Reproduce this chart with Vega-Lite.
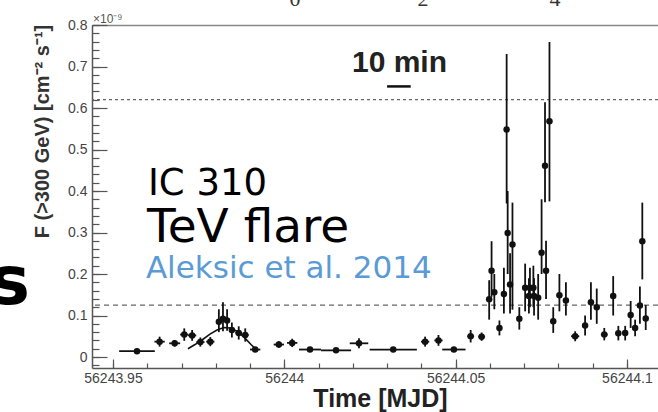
{
  "$schema": "https://vega.github.io/schema/vega-lite/v6.json",
  "width": 566,
  "height": 343,
  "autosize": {"type": "none"},
  "padding": {"left": 92, "top": 25, "right": 0, "bottom": 44},
  "background": "white",
  "config": {"view": {"stroke": null}, "axis": {"grid": false}},
  "datasets": {
    "pts": [
      {"t":56243.9570,"f":0.014,"lo":0.010,"hi":0.018,"t0":56243.9518,"t1":56243.9622},
      {"t":56243.9636,"f":0.037,"lo":0.025,"hi":0.049,"t0":56243.9621,"t1":56243.9651},
      {"t":56243.9680,"f":0.033,"lo":0.025,"hi":0.041,"t0":56243.9664,"t1":56243.9696},
      {"t":56243.9708,"f":0.054,"lo":0.039,"hi":0.069,"t0":56243.9696,"t1":56243.9720},
      {"t":56243.9731,"f":0.052,"lo":0.039,"hi":0.065,"t0":56243.9719,"t1":56243.9743},
      {"t":56243.9755,"f":0.036,"lo":0.025,"hi":0.047,"t0":56243.9743,"t1":56243.9767},
      {"t":56243.9784,"f":0.037,"lo":0.026,"hi":0.048,"t0":56243.9772,"t1":56243.9796},
      {"t":56243.9809,"f":0.085,"lo":0.060,"hi":0.115,"t0":56243.9801,"t1":56243.9817},
      {"t":56243.9821,"f":0.092,"lo":0.062,"hi":0.132,"t0":56243.9813,"t1":56243.9829},
      {"t":56243.9833,"f":0.088,"lo":0.063,"hi":0.115,"t0":56243.9825,"t1":56243.9841},
      {"t":56243.9847,"f":0.065,"lo":0.047,"hi":0.083,"t0":56243.9839,"t1":56243.9855},
      {"t":56243.9867,"f":0.058,"lo":0.042,"hi":0.074,"t0":56243.9857,"t1":56243.9877},
      {"t":56243.9886,"f":0.053,"lo":0.037,"hi":0.069,"t0":56243.9876,"t1":56243.9896},
      {"t":56243.9915,"f":0.018,"lo":0.012,"hi":0.024,"t0":56243.9900,"t1":56243.9930},
      {"t":56243.9984,"f":0.030,"lo":0.022,"hi":0.038,"t0":56243.9969,"t1":56243.9999},
      {"t":56244.0023,"f":0.034,"lo":0.024,"hi":0.044,"t0":56244.0008,"t1":56244.0038},
      {"t":56244.0075,"f":0.018,"lo":0.014,"hi":0.022,"t0":56244.0043,"t1":56244.0107},
      {"t":56244.0151,"f":0.016,"lo":0.012,"hi":0.020,"t0":56244.0107,"t1":56244.0195},
      {"t":56244.0218,"f":0.033,"lo":0.021,"hi":0.045,"t0":56244.0191,"t1":56244.0245},
      {"t":56244.0318,"f":0.018,"lo":0.014,"hi":0.022,"t0":56244.0249,"t1":56244.0387},
      {"t":56244.0411,"f":0.037,"lo":0.025,"hi":0.049,"t0":56244.0399,"t1":56244.0423},
      {"t":56244.0450,"f":0.040,"lo":0.027,"hi":0.053,"t0":56244.0438,"t1":56244.0462},
      {"t":56244.0495,"f":0.018,"lo":0.012,"hi":0.024,"t0":56244.0461,"t1":56244.0529},
      {"t":56244.0544,"f":0.050,"lo":0.035,"hi":0.065,"t0":56244.0534,"t1":56244.0554},
      {"t":56244.0576,"f":0.049,"lo":0.039,"hi":0.059,"t0":56244.0566,"t1":56244.0586},
      {"t":56244.0598,"f":0.139,"lo":0.090,"hi":0.185,"t0":56244.0593,"t1":56244.0603},
      {"t":56244.0605,"f":0.208,"lo":0.145,"hi":0.279,"t0":56244.0600,"t1":56244.0610},
      {"t":56244.0613,"f":0.156,"lo":0.115,"hi":0.200,"t0":56244.0608,"t1":56244.0618},
      {"t":56244.0628,"f":0.070,"lo":0.052,"hi":0.088,"t0":56244.0623,"t1":56244.0633},
      {"t":56244.0641,"f":0.152,"lo":0.105,"hi":0.215,"t0":56244.0636,"t1":56244.0646},
      {"t":56244.0649,"f":0.548,"lo":0.370,"hi":0.730,"t0":56244.0644,"t1":56244.0654},
      {"t":56244.0652,"f":0.299,"lo":0.200,"hi":0.400,"t0":56244.0647,"t1":56244.0657},
      {"t":56244.0659,"f":0.175,"lo":0.105,"hi":0.250,"t0":56244.0654,"t1":56244.0664},
      {"t":56244.0666,"f":0.271,"lo":0.114,"hi":0.372,"t0":56244.0661,"t1":56244.0671},
      {"t":56244.0686,"f":0.092,"lo":0.066,"hi":0.120,"t0":56244.0681,"t1":56244.0691},
      {"t":56244.0703,"f":0.167,"lo":0.110,"hi":0.225,"t0":56244.0698,"t1":56244.0708},
      {"t":56244.0714,"f":0.147,"lo":0.105,"hi":0.190,"t0":56244.0709,"t1":56244.0719},
      {"t":56244.0717,"f":0.167,"lo":0.120,"hi":0.215,"t0":56244.0712,"t1":56244.0722},
      {"t":56244.0727,"f":0.167,"lo":0.120,"hi":0.220,"t0":56244.0722,"t1":56244.0732},
      {"t":56244.0729,"f":0.147,"lo":0.100,"hi":0.190,"t0":56244.0724,"t1":56244.0734},
      {"t":56244.0741,"f":0.143,"lo":0.090,"hi":0.200,"t0":56244.0736,"t1":56244.0746},
      {"t":56244.0751,"f":0.251,"lo":0.200,"hi":0.380,"t0":56244.0746,"t1":56244.0756},
      {"t":56244.0761,"f":0.461,"lo":0.373,"hi":0.614,"t0":56244.0756,"t1":56244.0766},
      {"t":56244.0764,"f":0.208,"lo":0.140,"hi":0.280,"t0":56244.0759,"t1":56244.0769},
      {"t":56244.0774,"f":0.568,"lo":0.375,"hi":0.759,"t0":56244.0769,"t1":56244.0779},
      {"t":56244.0785,"f":0.086,"lo":0.058,"hi":0.120,"t0":56244.0780,"t1":56244.0790},
      {"t":56244.0803,"f":0.149,"lo":0.110,"hi":0.200,"t0":56244.0798,"t1":56244.0808},
      {"t":56244.0822,"f":0.136,"lo":0.100,"hi":0.180,"t0":56244.0817,"t1":56244.0827},
      {"t":56244.0849,"f":0.050,"lo":0.038,"hi":0.062,"t0":56244.0837,"t1":56244.0861},
      {"t":56244.0878,"f":0.076,"lo":0.052,"hi":0.100,"t0":56244.0873,"t1":56244.0883},
      {"t":56244.0895,"f":0.132,"lo":0.090,"hi":0.180,"t0":56244.0890,"t1":56244.0900},
      {"t":56244.0912,"f":0.120,"lo":0.080,"hi":0.165,"t0":56244.0907,"t1":56244.0917},
      {"t":56244.0934,"f":0.054,"lo":0.040,"hi":0.070,"t0":56244.0924,"t1":56244.0944},
      {"t":56244.0960,"f":0.147,"lo":0.100,"hi":0.195,"t0":56244.0955,"t1":56244.0965},
      {"t":56244.0975,"f":0.057,"lo":0.040,"hi":0.075,"t0":56244.0967,"t1":56244.0983},
      {"t":56244.0995,"f":0.058,"lo":0.040,"hi":0.075,"t0":56244.0987,"t1":56244.1003},
      {"t":56244.1011,"f":0.101,"lo":0.070,"hi":0.135,"t0":56244.1006,"t1":56244.1016},
      {"t":56244.1024,"f":0.070,"lo":0.050,"hi":0.090,"t0":56244.1019,"t1":56244.1029},
      {"t":56244.1038,"f":0.124,"lo":0.080,"hi":0.170,"t0":56244.1033,"t1":56244.1043},
      {"t":56244.1045,"f":0.279,"lo":0.187,"hi":0.372,"t0":56244.1040,"t1":56244.1050},
      {"t":56244.1055,"f":0.093,"lo":0.065,"hi":0.125,"t0":56244.1050,"t1":56244.1060}
    ],
    "fit": [
      {"t":56243.97189,"f":0.020},
      {"t":56243.97393,"f":0.030},
      {"t":56243.97598,"f":0.041},
      {"t":56243.97831,"f":0.055},
      {"t":56243.98036,"f":0.065},
      {"t":56243.98240,"f":0.071},
      {"t":56243.98415,"f":0.070},
      {"t":56243.98619,"f":0.062},
      {"t":56243.98824,"f":0.048},
      {"t":56243.99028,"f":0.030},
      {"t":56243.99232,"f":0.014}
    ],
    "thr": [{"f":0.62},{"f":0.125}],
    "bar": [{"t0":56244.0300,"t1":56244.0369,"f":0.652}],
    "notes": [
      {"k":"ic","label":"IC 310","t":56243.9602,"f":0.391},
      {"k":"tev","label":"TeV flare","t":56243.9599,"f":0.278},
      {"k":"ref","label":"Aleksic et al. 2014","t":56243.9596,"f":0.191},
      {"k":"min","label":"10 min","t":56244.01976,"f":0.687},
      {"k":"s","label":"s","t":56243.92577,"f":0.128},
      {"k":"exp","label":"×10⁻⁹","t":56243.94416,"f":0.805},
      {"k":"top","label":"0","t":56244.00312,"f":0.846},
      {"k":"top","label":"2","t":56244.04049,"f":0.846},
      {"k":"top","label":"4","t":56244.07901,"f":0.846}
    ]
  },
  "resolve": {"axis": {"x": "independent", "y": "independent"}},
  "layer": [
    {
      "data": {"name": "thr"},
      "transform": [{"filter": "datum.f > 0.5"}],
      "mark": {"type": "rule", "stroke": "#666", "strokeDash": [3, 3], "strokeWidth": 1.2},
      "encoding": {"y": {"field": "f", "type": "quantitative", "scale": {"domain": [-0.0265, 0.8], "nice": false, "zero": false}, "axis": null}}
    },
    {
      "data": {"name": "thr"},
      "transform": [{"filter": "datum.f < 0.5"}],
      "mark": {"type": "rule", "stroke": "#666", "strokeDash": [5, 4], "strokeWidth": 1.2},
      "encoding": {"y": {"field": "f", "type": "quantitative", "axis": null}}
    },
    {
      "data": {"name": "fit"},
      "mark": {"type": "line", "color": "#111", "strokeWidth": 1.6},
      "encoding": {
        "x": {"field": "t", "type": "quantitative", "axis": {"orient": "top", "ticks": false, "labels": false, "domain": true, "domainColor": "#888", "domainWidth": 1.5, "title": null}},
        "y": {"field": "f", "type": "quantitative", "axis": null}
      }
    },
    {
      "data": {"name": "pts"},
      "mark": {"type": "rule", "color": "#111", "strokeWidth": 1.8},
      "encoding": {
        "x": {"field": "t0", "type": "quantitative", "axis": {"orient": "bottom", "values": [56243.95,56243.96,56243.97,56243.98,56243.99,56244,56244.01,56244.02,56244.03,56244.04,56244.05,56244.06,56244.07,56244.08,56244.09,56244.1], "labels": false, "domain": false, "tickSize": -5, "tickColor": "#555", "tickWidth": 1.2, "title": null}},
        "x2": {"field": "t1"},
        "y": {"field": "f", "type": "quantitative", "axis": {"orient": "left", "values": [-0.02,0,0.02,0.04,0.06,0.08,0.1,0.12,0.14,0.16,0.18,0.2,0.22,0.24,0.26,0.28,0.3,0.32,0.34,0.36,0.38,0.4,0.42,0.44,0.46,0.48,0.5,0.52,0.54,0.56,0.58,0.6,0.62,0.64,0.66,0.68,0.7,0.72,0.74,0.76,0.78,0.8], "labels": false, "domain": false, "tickSize": -7, "tickColor": "#555", "tickWidth": 1.2, "title": null}}
      }
    },
    {
      "data": {"name": "pts"},
      "mark": {"type": "rule", "color": "#111", "strokeWidth": 1.8},
      "encoding": {
        "x": {"field": "t", "type": "quantitative", "axis": {"orient": "bottom", "values": [56243.95,56244,56244.05,56244.1], "labels": false, "domain": false, "tickSize": -9, "tickColor": "#555", "tickWidth": 1.2, "title": null}},
        "y": {"field": "lo", "type": "quantitative", "axis": {"orient": "left", "values": [0,0.1,0.2,0.3,0.4,0.5,0.6,0.7,0.8], "labels": false, "domain": false, "tickSize": -15, "tickColor": "#555", "tickWidth": 1.2, "title": null}},
        "y2": {"field": "hi"}
      }
    },
    {
      "data": {"name": "pts"},
      "mark": {"type": "circle", "color": "#111", "opacity": 1, "size": 42},
      "encoding": {
        "x": {"field": "t", "type": "quantitative", "scale": {"domain": [56243.94387, 56244.10908], "nice": false, "zero": false},
          "axis": {"orient": "bottom", "values": [56243.95,56244,56244.05,56244.1], "ticks": false, "domain": true, "domainColor": "#555", "domainWidth": 1.5, "labelExpr": "format(datum.value, '.7~r')", "labelFont": "Liberation Sans", "labelFontSize": 14, "labelColor": "#444", "labelPadding": 3, "labelFlush": false, "labelOverlap": false, "title": "Time [MJD]", "titleFont": "Liberation Sans", "titleFontSize": 25, "titleFontWeight": "bold", "titleColor": "#222", "titleX": 288, "titleY": 38, "titleAlign": "center", "titleBaseline": "alphabetic"}},
        "y": {"field": "f", "type": "quantitative", "scale": {"domain": [-0.0265, 0.8], "nice": false, "zero": false},
          "axis": {"orient": "left", "values": [0,0.1,0.2,0.3,0.4,0.5,0.6,0.7,0.8], "ticks": false, "domain": true, "domainColor": "#555", "domainWidth": 1.5, "format": "~g", "labelFont": "Liberation Sans", "labelFontSize": 14, "labelColor": "#444", "labelPadding": 5, "labelFlush": false, "labelOverlap": false, "title": "F (>300 GeV) [cm⁻² s⁻¹]", "titleFont": "Liberation Sans", "titleFontSize": 20, "titleFontWeight": "bold", "titleColor": "#333", "titleX": -50, "titleY": 106, "titleAngle": 270, "titleAlign": "center", "titleBaseline": "middle"}}
      }
    },
    {
      "data": {"name": "bar"},
      "mark": {"type": "rule", "color": "#111", "strokeWidth": 2.5},
      "encoding": {
        "x": {"field": "t0", "type": "quantitative", "axis": null},
        "x2": {"field": "t1"},
        "y": {"field": "f", "type": "quantitative", "axis": null}
      }
    },
    {
      "data": {"name": "notes"},
      "transform": [{"filter": "datum.k == 'ic'"}],
      "mark": {"type": "text", "font": "DejaVu Sans", "fontSize": 37, "color": "#000", "align": "left", "baseline": "alphabetic"},
      "encoding": {"x": {"field": "t", "type": "quantitative", "axis": null}, "y": {"field": "f", "type": "quantitative", "axis": null}, "text": {"field": "label"}}
    },
    {
      "data": {"name": "notes"},
      "transform": [{"filter": "datum.k == 'tev'"}],
      "mark": {"type": "text", "font": "DejaVu Sans", "fontSize": 47, "color": "#000", "align": "left", "baseline": "alphabetic"},
      "encoding": {"x": {"field": "t", "type": "quantitative", "axis": null}, "y": {"field": "f", "type": "quantitative", "axis": null}, "text": {"field": "label"}}
    },
    {
      "data": {"name": "notes"},
      "transform": [{"filter": "datum.k == 'ref'"}],
      "mark": {"type": "text", "font": "DejaVu Sans", "fontSize": 31, "color": "#5B9BD5", "align": "left", "baseline": "alphabetic"},
      "encoding": {"x": {"field": "t", "type": "quantitative", "axis": null}, "y": {"field": "f", "type": "quantitative", "axis": null}, "text": {"field": "label"}}
    },
    {
      "data": {"name": "notes"},
      "transform": [{"filter": "datum.k == 'min'"}],
      "mark": {"type": "text", "font": "Liberation Sans", "fontSize": 30, "fontWeight": "bold", "color": "#222", "align": "left", "baseline": "alphabetic"},
      "encoding": {"x": {"field": "t", "type": "quantitative", "axis": null}, "y": {"field": "f", "type": "quantitative", "axis": null}, "text": {"field": "label"}}
    },
    {
      "data": {"name": "notes"},
      "transform": [{"filter": "datum.k == 's'"}],
      "mark": {"type": "text", "font": "DejaVu Sans", "fontSize": 68, "fontWeight": "bold", "color": "#000", "align": "right", "baseline": "alphabetic"},
      "encoding": {"x": {"field": "t", "type": "quantitative", "axis": null}, "y": {"field": "f", "type": "quantitative", "axis": null}, "text": {"field": "label"}}
    },
    {
      "data": {"name": "notes"},
      "transform": [{"filter": "datum.k == 'exp'"}],
      "mark": {"type": "text", "font": "Liberation Sans", "fontSize": 12, "color": "#555", "align": "left", "baseline": "alphabetic"},
      "encoding": {"x": {"field": "t", "type": "quantitative", "axis": null}, "y": {"field": "f", "type": "quantitative", "axis": null}, "text": {"field": "label"}}
    },
    {
      "data": {"name": "notes"},
      "transform": [{"filter": "datum.k == 'top'"}],
      "mark": {"type": "text", "font": "Liberation Serif", "fontSize": 22, "color": "#333", "align": "center", "baseline": "alphabetic"},
      "encoding": {"x": {"field": "t", "type": "quantitative", "axis": null}, "y": {"field": "f", "type": "quantitative", "axis": null}, "text": {"field": "label"}}
    }
  ]
}
